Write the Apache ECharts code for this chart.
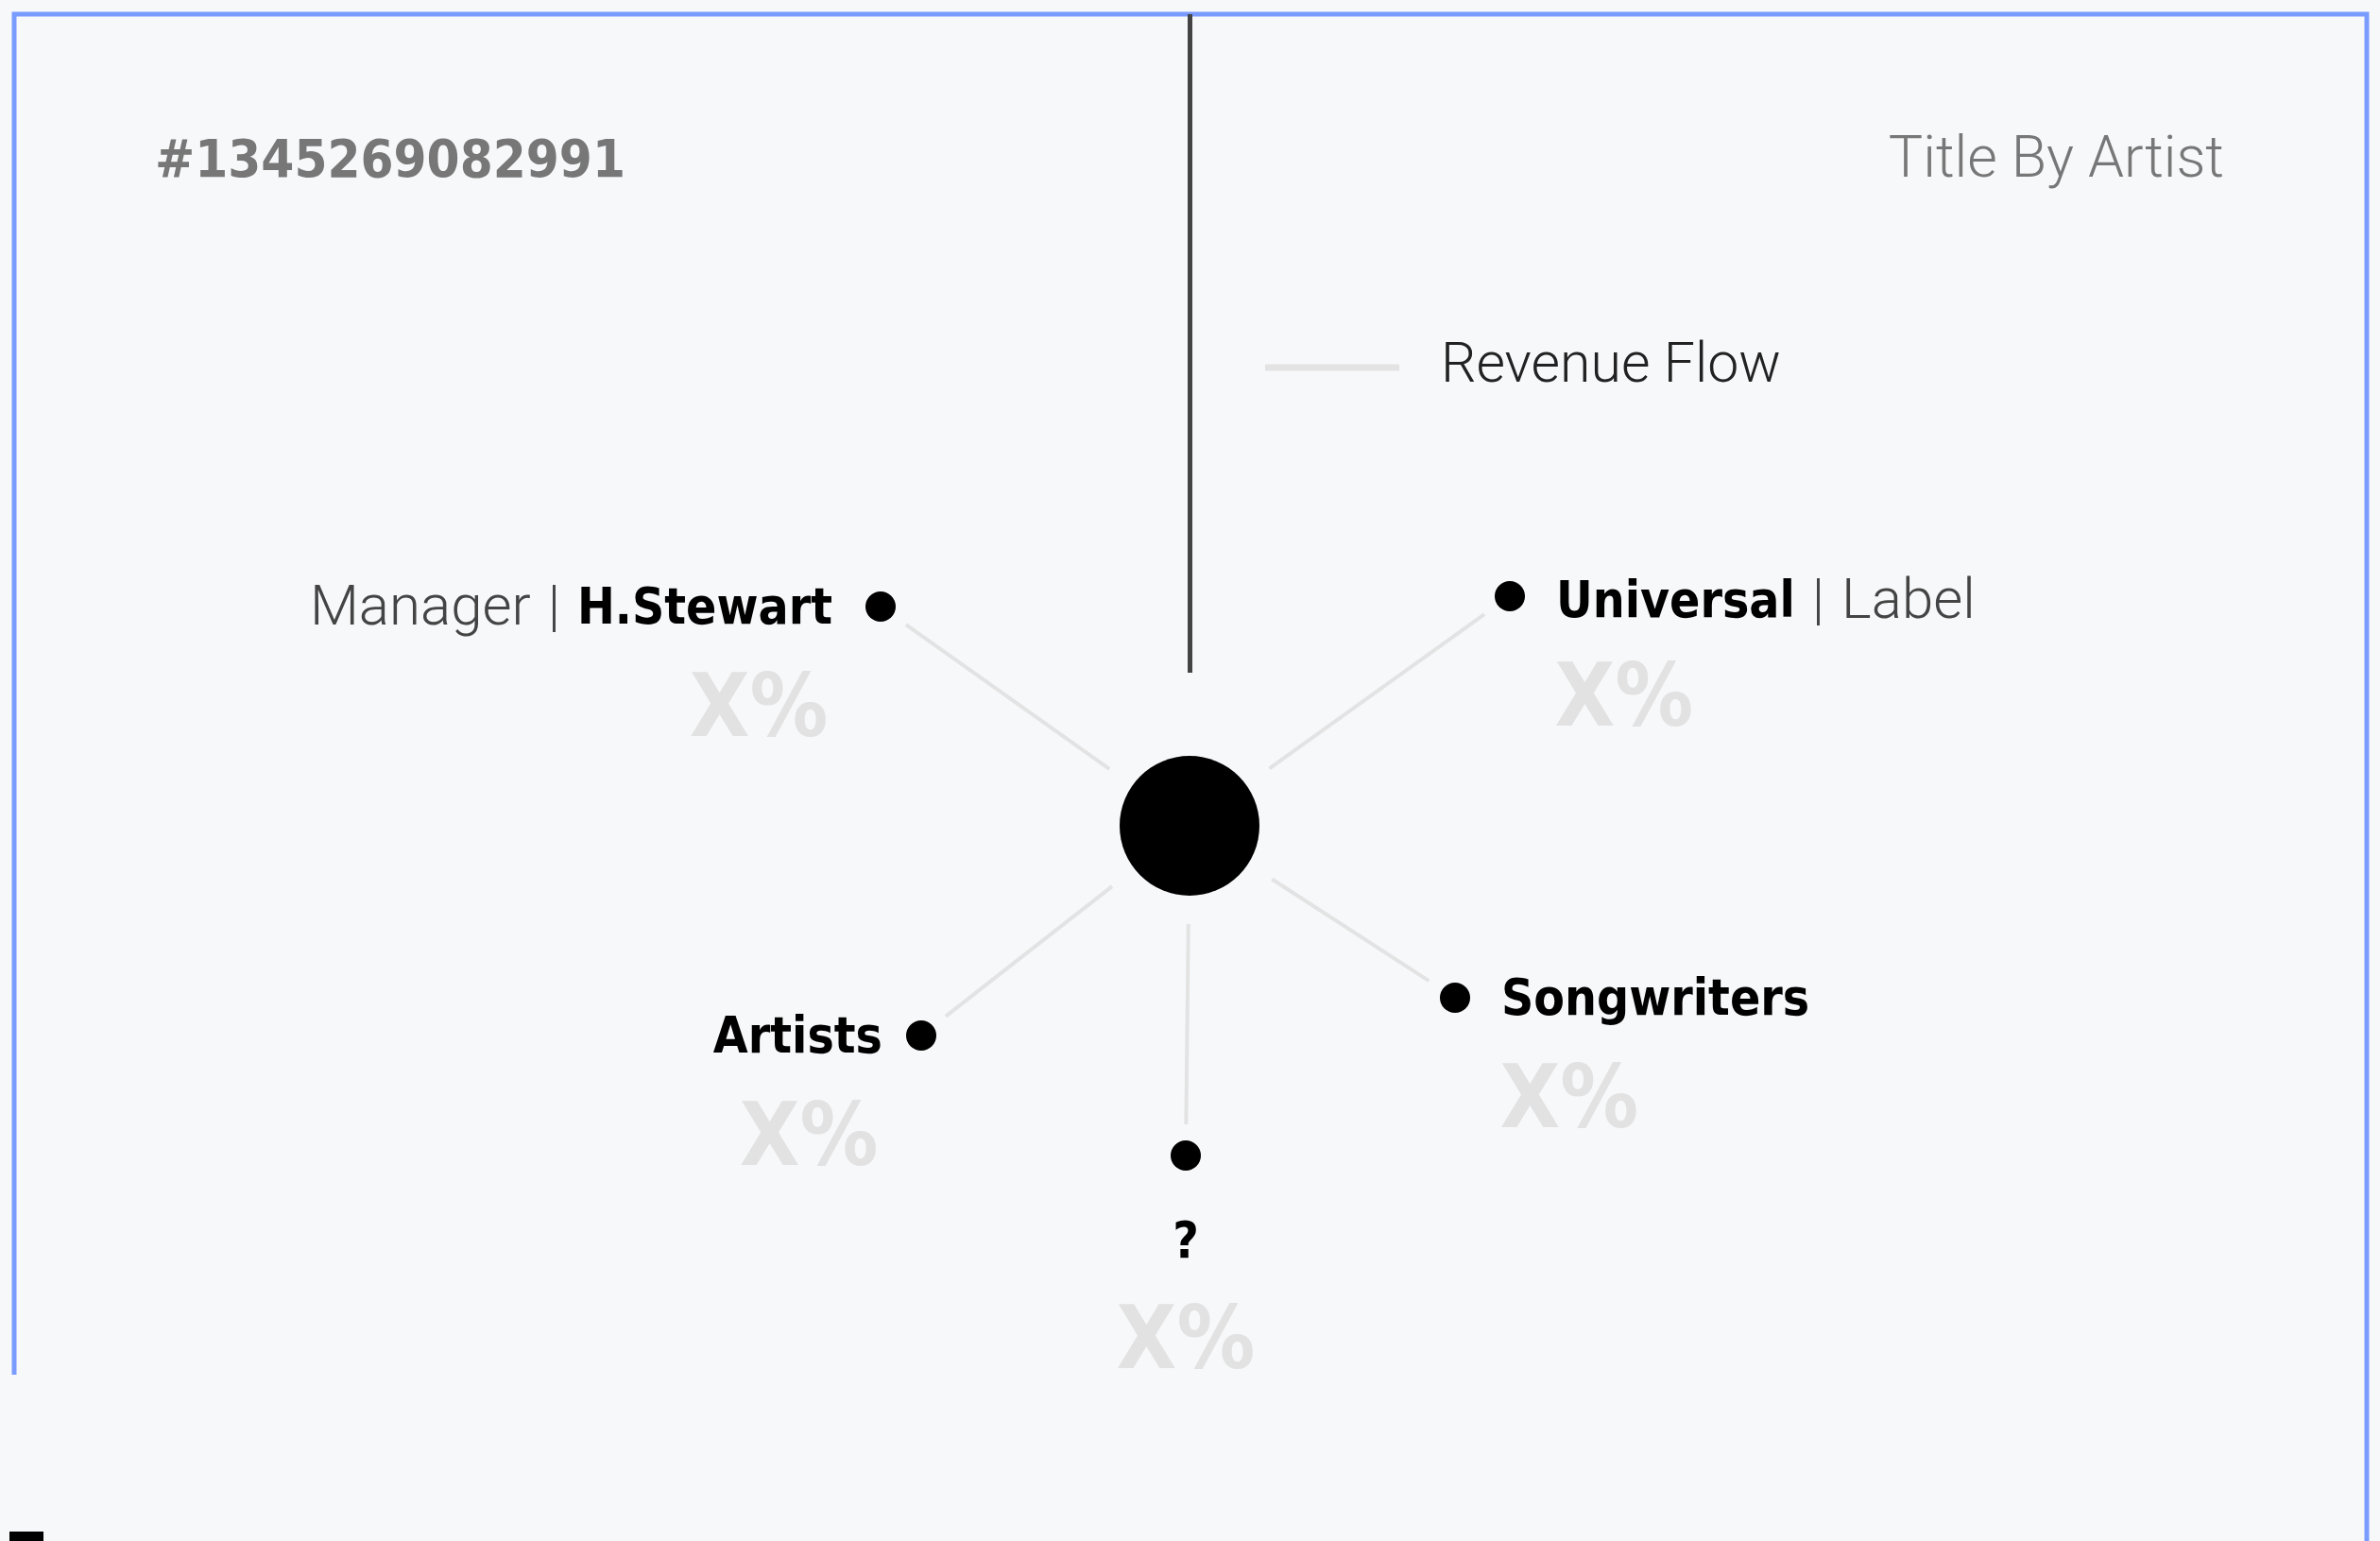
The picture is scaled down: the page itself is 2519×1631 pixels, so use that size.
<!DOCTYPE html>
<html>
<head>
<meta charset="utf-8">
<title>Revenue Flow</title>
<script src="https://cdn.jsdelivr.net/npm/echarts@6/dist/echarts.min.js"></script>
<style>
    html, body { margin: 0; padding: 0; background: #f7f8fa; }
    #chart { width: 2519px; height: 1631px; }
</style>
</head>
<body>
<div id="chart"></div>
<script>
// 数据
const trackId = '#1345269082991';
const trackTitle = 'Title By Artist';
const flowName = 'Revenue Flow';
const nodeNames = ['H.Stewart', 'Universal', 'Songwriters', '?', 'Artists'];
const nodeRoles = ['Manager', 'Label', '', '', ''];
const nodeShares = ['X%', 'X%', 'X%', 'X%', 'X%'];
const nodeX = [932, 1598, 1540, 1255, 975];
const nodeY = [642, 631, 1056, 1223, 1096];
const hubPos = [1259, 874];
const inflowTop = 15;

const boldFont = '"DejaVu Sans Condensed", "DejaVu Sans", sans-serif';
const lightFont = 'Roboto, "Noto Sans", sans-serif';

// 标签放在哪一侧
const sides = ['left', 'right', 'right', 'bottom', 'left'];

const richStyles = {
    role: { fontFamily: lightFont, fontWeight: 300, fontSize: 60, color: '#444', lineHeight: 64 },
    sep: { fontFamily: lightFont, fontWeight: 300, fontSize: 60, color: '#444', lineHeight: 64, padding: [0, 18] },
    name: { fontFamily: boldFont, fontWeight: 'bold', fontSize: 53, color: '#000', lineHeight: 64 }
};

function nameText(i) {
    if (!nodeRoles[i]) return '{name|' + nodeNames[i] + '}';
    if (sides[i] === 'left') return '{role|' + nodeRoles[i] + '}{sep||}{name|' + nodeNames[i] + '}';
    return '{name|' + nodeNames[i] + '}{sep||}{role|' + nodeRoles[i] + '}';
}

function nameLabel(i) {
    const side = sides[i];
    const label = { show: true, formatter: nameText(i), rich: richStyles };
    if (side === 'bottom') {
        label.position = 'inside';
        label.offset = [0, 94];
    } else {
        label.position = side;
        if (side === 'left') label.distance = nodeRoles[i] ? 35 : 25;
        else label.distance = 33;
        label.offset = [0, nodeRoles[i] && side === 'right' ? 8 : 4];
    }
    return label;
}

function shareLabel(i) {
    const side = sides[i];
    const label = {
        show: true,
        formatter: nodeShares[i],
        fontFamily: boldFont,
        fontWeight: 'bold',
        fontSize: 92,
        color: '#e2e2e2'
    };
    if (side === 'bottom') {
        label.position = 'inside';
        label.offset = [0, 201];
    } else {
        label.position = side;
        if (side === 'left') label.distance = nodeRoles[i] ? 55 : 45;
        else label.distance = 47;
        label.offset = [0, 113];
    }
    return label;
}

// 从中心到各节点的连线，两端留空
function edgeCoords(i) {
    const dx = nodeX[i] - hubPos[0];
    const dy = nodeY[i] - hubPos[1];
    const len = Math.sqrt(dx * dx + dy * dy);
    const ux = dx / len, uy = dy / len;
    return [
        [hubPos[0] + ux * 104, hubPos[1] + uy * 104],
        [nodeX[i] - ux * 33, nodeY[i] - uy * 33]
    ];
}

const chart = echarts.init(document.getElementById('chart'));

const option = {
    backgroundColor: '#f7f8fa',
    animation: false,
    title: [
        {
            text: trackId,
            left: 164,
            top: 142,
            padding: 0,
            textStyle: { fontFamily: boldFont, fontWeight: 'bold', fontSize: 56, color: '#777', lineHeight: 60 }
        },
        {
            text: trackTitle,
            right: 165,
            top: 140,
            padding: 0,
            textStyle: { fontFamily: lightFont, fontWeight: 300, fontSize: 61, color: '#777', lineHeight: 64 }
        }
    ],
    legend: {
        data: [{ name: flowName, icon: 'rect', itemStyle: { color: '#e3e3e3' } }],
        left: 1339,
        top: 357,
        padding: 0,
        itemWidth: 140,
        itemHeight: 5,
        selectedMode: false,
        textStyle: {
            fontFamily: lightFont,
            fontWeight: 300,
            fontSize: 59,
            color: '#222',
            lineHeight: 64,
            padding: [0, 0, 0, 40]
        }
    },
    grid: { left: 0, right: 0, top: 0, bottom: 0 },
    xAxis: { type: 'value', min: 0, max: 2519, show: false },
    yAxis: { type: 'value', min: 0, max: 1631, inverse: true, show: false },
    graphic: [
        {
            type: 'polyline',
            shape: { points: [[15, 1455], [15, 15], [2505, 15], [2505, 1631]] },
            style: { stroke: '#7b9cff', lineWidth: 5, fill: null },
            silent: true
        },
        {
            type: 'rect',
            shape: { x: 10, y: 1621, width: 36, height: 10 },
            style: { fill: '#000' },
            silent: true
        }
    ],
    series: [
        {
            name: flowName,
            type: 'lines',
            coordinateSystem: 'cartesian2d',
            silent: true,
            z: 1,
            lineStyle: { color: '#e3e3e3', width: 4, opacity: 1, curveness: 0 },
            data: nodeNames.map((n, i) => ({ coords: edgeCoords(i) }))
        },
        {
            name: 'inflow',
            type: 'lines',
            coordinateSystem: 'cartesian2d',
            silent: true,
            z: 1,
            lineStyle: { color: '#444', width: 5, opacity: 1 },
            data: [{ coords: [[hubPos[0], inflowTop], [hubPos[0], hubPos[1] - 162]] }]
        },
        {
            name: 'hub',
            type: 'scatter',
            symbol: 'circle',
            symbolSize: 148,
            itemStyle: { color: '#000', opacity: 1 },
            silent: true,
            z: 3,
            data: [hubPos]
        },
        {
            name: 'nodes',
            type: 'scatter',
            symbol: 'circle',
            symbolSize: 32,
            itemStyle: { color: '#000', opacity: 1 },
            silent: true,
            z: 3,
            data: nodeX.map((x, i) => ({ value: [x, nodeY[i]], label: nameLabel(i) }))
        },
        {
            name: 'shares',
            type: 'scatter',
            symbol: 'circle',
            symbolSize: 1,
            itemStyle: { color: 'rgba(0,0,0,0)', opacity: 1 },
            silent: true,
            z: 2,
            data: nodeX.map((x, i) => ({ value: [x, nodeY[i]], label: shareLabel(i) }))
        }
    ]
};

chart.setOption(option);

window.addEventListener('resize', function() {
    chart.resize();
});
</script>
</body>
</html>
